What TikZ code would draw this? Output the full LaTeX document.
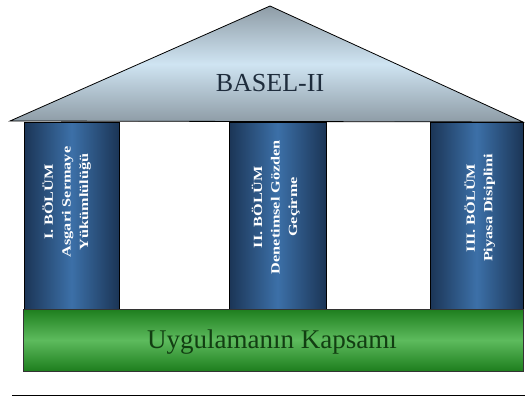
\documentclass[tikz,border=0pt]{standalone}
\usepackage{fontspec}
\setmainfont{Liberation Serif}
\newfontfamily\colfont{Liberation Serif}
\newcommand{\stretchtext}[1]{\scalebox{1.3}[1]{#1}}
\begin{document}
\begin{tikzpicture}[x=1pt,y=-1pt,
  roofsh/.style={top color=roofgray, bottom color=roofgray, middle color=roofblue, draw=black, line width=0.8pt, line join=miter},
  pillar/.style={left color=navy, right color=navy, middle color=lightnavy, draw=black, line width=0.8pt},
  basesh/.style={top color=darkgreen, bottom color=darkgreen, middle color=lightgreen, draw=black!80, line width=0.8pt},
  coltext/.style={rotate=90, text=white, font=\colfont\bfseries\fontsize{12.5}{17.5}\selectfont, inner sep=0pt}]
\definecolor{roofgray}{HTML}{8E9CA6}
\definecolor{roofblue}{HTML}{CFE4F2}
\definecolor{navy}{HTML}{1B3556}
\definecolor{lightnavy}{HTML}{3C70A8}
\definecolor{darkgreen}{HTML}{1E7E1E}
\definecolor{lightgreen}{HTML}{5DBB5D}
\definecolor{rooftext}{HTML}{1E2C3C}
\definecolor{basetext}{HTML}{123E12}
\useasboundingbox (0,0) rectangle (525,396);
% roof
\shade[roofsh] (10,121) -- (270,6) -- (523,122) -- cycle;
\node[font=\fontsize{26}{30}\selectfont, text=rooftext] (roof) at (270,83) {BASEL-II};
% pillars
\shade[pillar] (24,122) rectangle (119,309);
\shade[pillar] (229,122) rectangle (326,309);
\shade[pillar] (430,122) rectangle (523,309);
\node[coltext] (p1) at (67,202) {\stretchtext{\begin{tabular}{@{}c@{}}I. BÖLÜM\\Asgari Sermaye\\Yükümlülüğü\end{tabular}}};
\node[coltext] (p2) at (276,207) {\stretchtext{\begin{tabular}{@{}c@{}}II. BÖLÜM\\Denetimsel Gözden\\Geçirme\end{tabular}}};
\node[coltext] (p3) at (480,208) {\stretchtext{\begin{tabular}{@{}c@{}}III. BÖLÜM\\Piyasa Disiplini\end{tabular}}};
% base
\shade[basesh] (23,309) rectangle (523,371);
\node[font=\fontsize{27}{31}\selectfont, text=basetext] (base) at (272,342) {Uygulamanın Kapsamı};
% bottom rule
\coordinate (l1) at (12,395);
\coordinate (l2) at (525,395);
\draw[line width=1pt] (l1) -- (l2);
\end{tikzpicture}
\end{document}
